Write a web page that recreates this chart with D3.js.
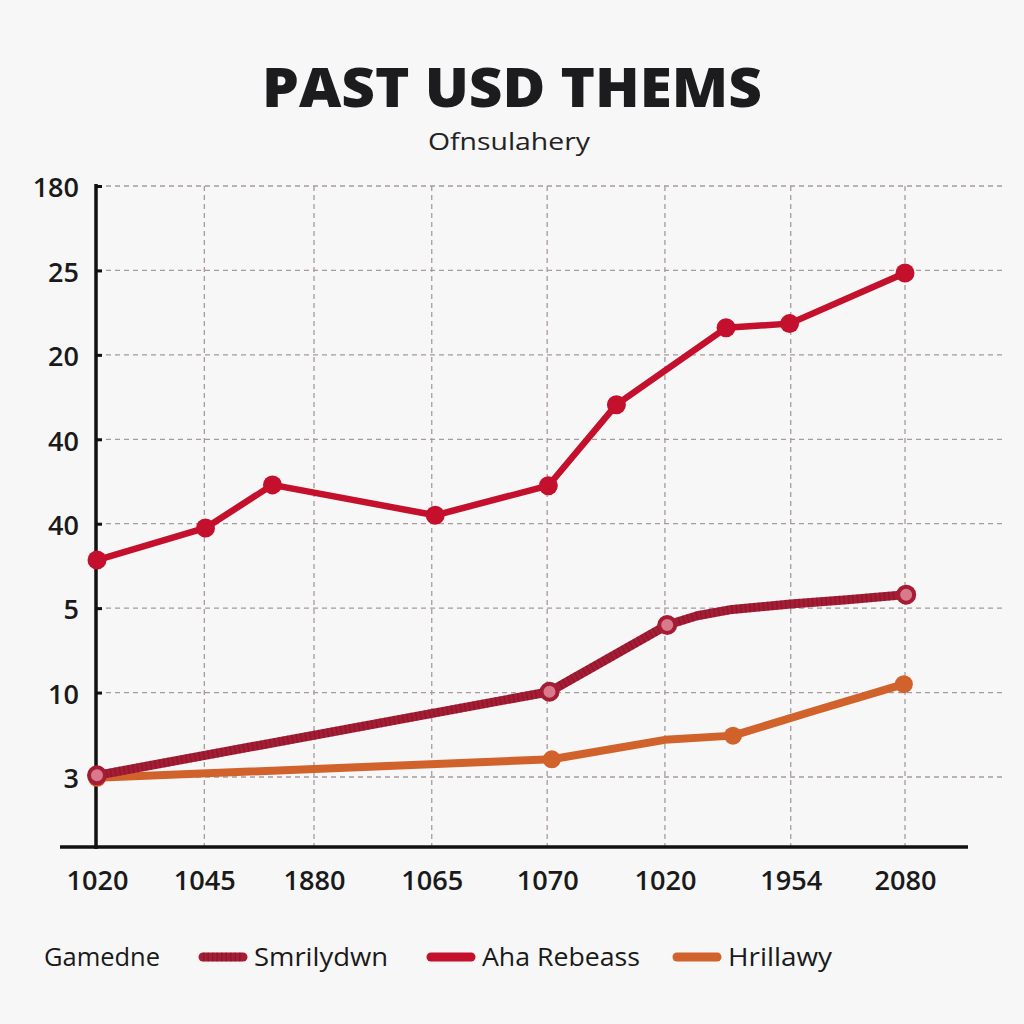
<!DOCTYPE html>
<html><head><meta charset="utf-8">
<script src="https://cdn.jsdelivr.net/npm/d3@7"></script>
<style>html,body{margin:0;padding:0;background:#f6f7f6;}</style>
</head><body>
<svg id="c" width="1024" height="1024"></svg>
<script>
// ---- data ----
const yTickLabels = ["3","10","5","40","40","20","25","180"]; // bottom to top
const xTickLabels = ["1020","1045","1880","1065","1070","1020","1954","2080"];
const xTickPos = [0, 0.93, 1.88, 2.90, 3.90, 4.92, 6.01, 7];
const seriesNames = ["Smrilydwn","Aha Rebeass","Hrillawy"];
const ahaX = [0, 0.94, 1.52, 2.93, 3.91, 4.50, 5.45, 6.0, 7];
const ahaY = [2.57, 2.95, 3.46, 3.10, 3.45, 4.41, 5.32, 5.37, 5.97];
const smrX = [0, 3.92, 4.94, 5.2, 5.48, 6.01, 6.5, 7.01];
const smrY = [0.02, 1.01, 1.80, 1.91, 1.98, 2.05, 2.10, 2.16];
const smrMarker = [1,1,1,0,0,0,0,1];
const hriX = [0, 3.94, 4.92, 5.51, 6.18, 6.99];
const hriY = [-0.01, 0.21, 0.44, 0.49, 0.77, 1.10];
const hriMarker = [1,1,0,1,0,1];

const svg = d3.select("#c");
svg.append("rect").attr("width",1024).attr("height",1024).attr("fill","#f6f7f6");

const x = d3.scaleLinear().domain([0,7]).range([97,905]);
const y = d3.scaleLinear().domain([0,7]).range([777,186]);
const font = "'Open Sans', 'DejaVu Sans', sans-serif";

// title
svg.append("text").attr("x",512).attr("y",107).attr("text-anchor","middle")
  .attr("font-family",font).attr("font-weight",800).attr("font-size",55)
  .attr("textLength",500).attr("lengthAdjust","spacingAndGlyphs")
  .attr("fill","#1c1c1e").text("PAST USD THEMS");
svg.append("text").attr("x",509).attr("y",150).attr("text-anchor","middle")
  .attr("font-family",font).attr("font-weight",400).attr("font-size",24)
  .attr("textLength",162).attr("lengthAdjust","spacingAndGlyphs")
  .attr("fill","#222").text("Ofnsulahery");

// grid
const gridColor = "#a89aa0";
svg.append("g").selectAll("line").data(d3.range(yTickLabels.length)).join("line")
  .attr("x1",97).attr("x2",1003).attr("y1",d=>y(d)).attr("y2",d=>y(d))
  .attr("stroke",gridColor).attr("stroke-width",1.3).attr("stroke-dasharray","5,4");
svg.append("g").selectAll("line").data(xTickPos.slice(1)).join("line")
  .attr("x1",d=>x(d)).attr("x2",d=>x(d)).attr("y1",186).attr("y2",847)
  .attr("stroke",gridColor).attr("stroke-width",1.3).attr("stroke-dasharray","5,4");

// axes
const yAxis = d3.axisLeft(y).tickValues(d3.range(yTickLabels.length))
  .tickFormat(i=>yTickLabels[i]).tickSize(-6).tickPadding(17);
const gy = svg.append("g").attr("transform","translate(96,0)").call(yAxis);
gy.select(".domain").remove();
gy.selectAll(".tick line").attr("stroke","#111").attr("stroke-width",3);
gy.selectAll("text").attr("font-family",font).attr("font-size",27).attr("font-weight",600).attr("fill","#1a1a1a").attr("dy","0.4em");
svg.append("line").attr("x1",96).attr("x2",96).attr("y1",184).attr("y2",849).attr("stroke","#111").attr("stroke-width",3.5);

const xAxis = d3.axisBottom(x).tickValues(xTickPos).tickFormat((d,i)=>xTickLabels[i]).tickSize(0).tickPadding(24);
const gx = svg.append("g").attr("transform","translate(0,847)").call(xAxis);
gx.select(".domain").remove();
gx.selectAll("text").attr("font-family",font).attr("font-size",27).attr("font-weight",600).attr("fill","#1a1a1a")
  .attr("textLength",62).attr("lengthAdjust","spacingAndGlyphs");
svg.append("line").attr("x1",60).attr("x2",968).attr("y1",847).attr("y2",847).attr("stroke","#111").attr("stroke-width",3.5);

const line = d3.line().x(d=>x(d[0])).y(d=>y(d[1]));

const cAha = "#c4102c", cSmr = "#a51d35", cHri = "#d2622b";
const hri = hriX.map((v,i)=>[v,hriY[i],hriMarker[i]]);
const smr = smrX.map((v,i)=>[v,smrY[i],smrMarker[i]]);
const aha = ahaX.map((v,i)=>[v,ahaY[i]]);

// Hrillawy
svg.append("path").datum(hri).attr("d",line).attr("fill","none").attr("stroke",cHri).attr("stroke-width",8).attr("stroke-linecap","round").attr("stroke-linejoin","round");
svg.append("g").selectAll("circle").data(hri.filter(d=>d[2])).join("circle")
  .attr("cx",d=>x(d[0])).attr("cy",d=>y(d[1])).attr("r",9).attr("fill",cHri);

// Smrilydwn
svg.append("path").datum(smr).attr("d",line).attr("fill","none").attr("stroke",cSmr).attr("stroke-width",9).attr("stroke-linecap","round").attr("stroke-linejoin","round");
svg.append("path").datum(smr).attr("d",line).attr("fill","none").attr("stroke","#7e1226").attr("stroke-width",9).attr("stroke-dasharray","1.5,3").attr("opacity",0.5).attr("stroke-linejoin","round");
svg.append("g").selectAll("circle").data(smr.filter(d=>d[2])).join("circle")
  .attr("cx",d=>x(d[0])).attr("cy",d=>y(d[1])).attr("r",8).attr("fill","#d97a8c").attr("stroke",cSmr).attr("stroke-width",4);

// Aha Rebeass
svg.append("path").datum(aha).attr("d",line).attr("fill","none").attr("stroke",cAha).attr("stroke-width",6.5).attr("stroke-linejoin","round");
svg.append("g").selectAll("circle").data(aha).join("circle")
  .attr("cx",d=>x(d[0])).attr("cy",d=>y(d[1])).attr("r",9.5).attr("fill",cAha);

// legend
const lg = svg.append("g").attr("font-family",font).attr("font-size",26).attr("font-weight",500).attr("fill","#1a1a1a");
lg.append("text").attr("x",44).attr("y",966).attr("textLength",116).attr("lengthAdjust","spacingAndGlyphs").text("Gamedne");
const legItems = [
  {name:seriesNames[0], color:cSmr, sx:203, tx:254, tl:134, dotted:true},
  {name:seriesNames[1], color:cAha, sx:431, tx:482, tl:158},
  {name:seriesNames[2], color:cHri, sx:677, tx:728, tl:104}
];
legItems.forEach(it=>{
  lg.append("line").attr("x1",it.sx).attr("x2",it.sx+40).attr("y1",957).attr("y2",957)
    .attr("stroke",it.color).attr("stroke-width",9).attr("stroke-linecap","round");
  if(it.dotted) lg.append("line").attr("x1",it.sx).attr("x2",it.sx+40).attr("y1",957).attr("y2",957)
    .attr("stroke","#7e1226").attr("stroke-width",9).attr("stroke-dasharray","1.5,3").attr("opacity",0.5);
  lg.append("text").attr("x",it.tx).attr("y",966).attr("textLength",it.tl).attr("lengthAdjust","spacingAndGlyphs").text(it.name);
});
</script>
</body></html>
